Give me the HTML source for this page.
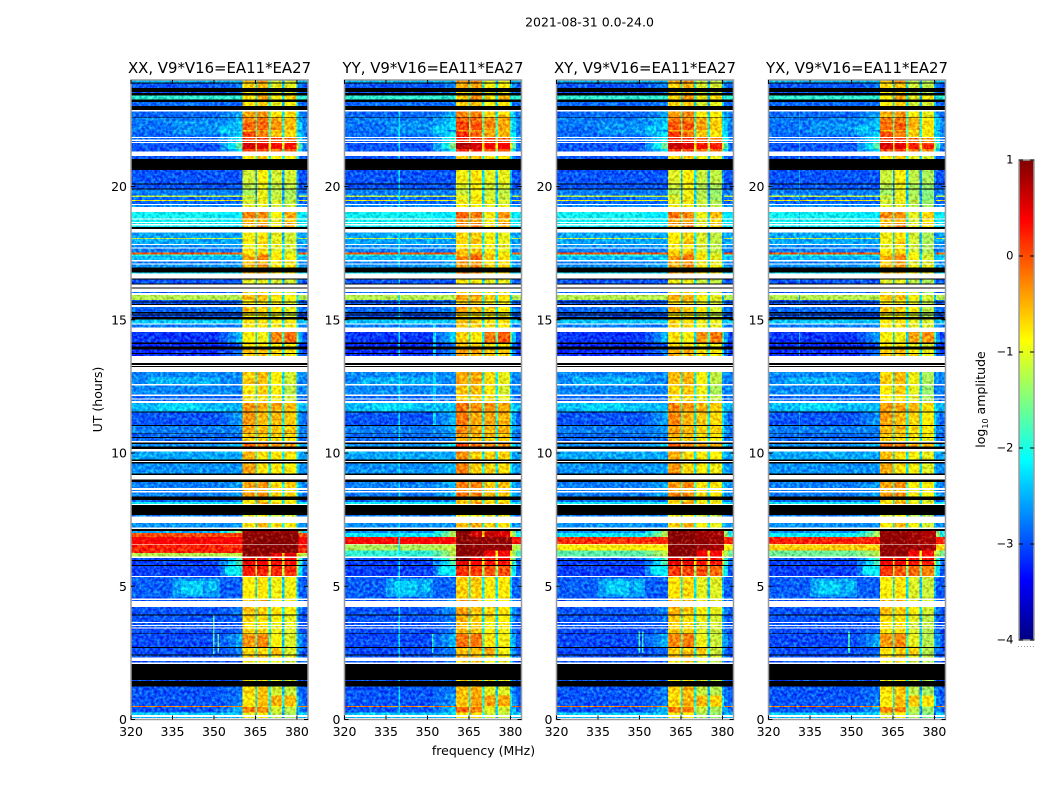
<!DOCTYPE html>
<html>
<head>
<meta charset="utf-8">
<title>Waterfall amplitude chart</title>
<style>
html,body{margin:0;padding:0;background:#fff;}
svg{display:block;}
text{font-family:"DejaVu Sans","Liberation Sans",sans-serif;fill:#000;}
</style>
</head>
<body>
<svg id="chart" xmlns="http://www.w3.org/2000/svg" width="1050" height="800" viewBox="0 0 1050 800">
<defs>
<filter id="speckle" filterUnits="objectBoundingBox" x="0" y="0" width="1" height="1" color-interpolation-filters="sRGB">
<feTurbulence type="fractalNoise" baseFrequency="0.33" numOctaves="2" seed="7" result="n"/>
<feColorMatrix in="n" type="matrix" values="1 0 0 0 0  2 0 0 0 -0.6  0.8 0 0 0 0.1  0 0 0 0 1" result="m"/>
<feComposite in="SourceGraphic" in2="m" operator="arithmetic" k1="0" k2="1" k3="0.5" k4="-0.25" result="c"/>
<feComposite in="c" in2="SourceAlpha" operator="in"/>
</filter>
<linearGradient id="jet-gradient" x1="0" y1="1" x2="0" y2="0"></linearGradient>
</defs>
<text x="589.5" y="26.5" font-size="12.5" text-anchor="middle">2021-08-31 0.0-24.0</text>
<text x="483.5" y="755" font-size="12.5" text-anchor="middle">frequency (MHz)</text>
<text transform="translate(102,399.5) rotate(-90)" font-size="12.5" text-anchor="middle">UT (hours)</text>
<g id="panels"></g>
<g id="colorbar"></g>
<text transform="translate(985,399.5) rotate(-90)" font-size="12.5" text-anchor="middle">log<tspan font-size="8" dy="3">10</tspan><tspan dy="-3"> amplitude</tspan></text>
</svg>
<script>
// ---- Data ----
const panelTitles = ["XX, V9*V16=EA11*EA27", "YY, V9*V16=EA11*EA27", "XY, V9*V16=EA11*EA27", "YX, V9*V16=EA11*EA27"];
const xTicks = [320, 335, 350, 365, 380];
const yTicks = [0, 5, 10, 15, 20];
const colorTicks = [1, 0, -1, -2, -3, -4];
const colorTickLabels = ["1", "0", "\u22121", "\u22122", "\u22123", "\u22124"];

// each time row: [hour at top of row, low-band log amplitude, sub-band A, B, C, D] or flagged 'W' / 'K'
const timeRows = [
[24.00,-2.4,-.5,-.3,-1,-1],[23.90,'K'],[23.86,-2.9,-.6,-.5,-.9,-.9],[23.70,'K'],[23.55,-2.9,-.7,-.6,-1,-1],[23.51,'K'],
[23.42,-1.9,-.7,-.4,-.8,-.6],[23.27,'K'],[23.18,-2.8,-.7,-.6,-.9,-.8],[23.03,'K'],[22.87,'W'],
[22.82,-2.8,-.4,-.3,-.7,-.7],[22.62,'K'],[22.59,-2.7,-.2,-.2,-.4,-.5],[22.42,-2.75,-.05,-.05,-.3,-.5],[22.12,-2.75,-.5,-.45,-.6,-.6],
[22.06,-2.8,.1,-.2,-.5,-.6],[21.86,'W'],[21.83,-2.8,.2,.2,.1,-.1],[21.77,'W'],[21.72,-2.8,.1,.1,0,-.1],[21.67,'W'],
[21.63,-2.9,.7,.6,.4,.4],[21.41,-2.9,.1,.1,-.1,-.1],[21.31,'W'],[21.15,-2.9,-.7,-.6,-.8,-.8],[21.03,'K'],
[20.62,-2.9,-1,-.8,-1,-1],[20.11,'K'],[20.08,-2.9,-1.1,-.9,-1.1,-1.1],[19.92,'K'],[19.89,-2.7,-1.2,-.9,-1.1,-1.2],
[19.66,-1.2,-.9,-.8,-1,-1.1],[19.61,-2.8,-1.1,-.9,-1.1,-1.2],[19.49,-.9,-.8,-.6,-.9,-1],[19.46,-2.8,-1,-.9,-1,-1.1],[19.35,'W'],[19.31,-2.6,-.9,-.9,-1,-1],[19.24,'W'],
[19.05,-2.15,-.2,-.3,-.8,-.4],[18.81,'W'],[18.77,-2.15,-.5,-.5,-.9,-.6],[18.68,'W'],[18.64,-2.15,-.35,-.35,-.8,-.4],[18.59,'W'],[18.54,-2.2,-.5,-.2,-.8,-.5],
[18.48,'K'],[18.41,'W'],[18.27,-2.5,-.8,-.7,-.9,-1],[18.07,-1.2,-.8,-.7,-.9,-1],[18.03,-2.5,-.8,-.6,-.9,-1],
[17.84,'W'],[17.80,-2.6,-.9,-.8,-.9,-1],[17.72,'W'],[17.67,-2.7,-.7,-.7,-.9,-1],[17.52,-.1,-.6,-.5,-.7,-.9],[17.46,-2,-.6,-.3,-.7,-.8],
[17.39,-2.4,-.4,-.2,-.7,-.8],[17.24,'W'],[17.19,-2.7,-.5,-.4,-.8,-.8],[17.12,'W'],[17.07,-2.6,-.5,-.3,-.7,-.7],[16.97,'K'],[16.77,-2.2,-.4,-.4,-.7,-.7],[16.74,'W'],
[16.55,'K'],[16.52,-2.9,-.9,-.9,-1,-1],[16.37,'K'],[16.33,'W'],[16.22,'K'],[16.18,'W'],[16.05,-2.8,-.9,-.8,-.9,-1],[16.00,'W'],
[15.93,-1.25,-.5,-.5,-.7,-.8],[15.74,-2.9,-.7,-.6,-.8,-.9],[15.68,'K'],[15.65,-2.9,-.7,-.7,-.8,-.9],[15.59,'K'],[15.55,'W'],
[15.48,-2.8,-.5,-.6,-.7,-.9],[15.29,'K'],[15.23,-2.9,-.8,-.8,-.9,-1],[15.20,'K'],[15.16,-2.9,-.8,-.8,-.9,-1],[15.11,'K'],
[15.02,-2.35,-.7,-.7,-.8,-.8],[14.87,'W'],[14.83,-2.7,-.7,-.7,-.8,-.8],[14.72,'W'],[14.55,-3.05,-.75,-.85,-.25,-.1],[14.15,'K'],
[14.09,-3.1,-.7,-.7,-.8,-.8],[13.99,'K'],[13.89,-3.1,-.5,-.5,-.6,-.7],[13.76,'K'],[13.72,-3.1,-.5,-.5,-.6,-.7],[13.64,'W'],[13.37,'K'],[13.30,'W'],[13.26,'K'],[13.22,'W'],
[13.05,-2.65,-.55,-.5,-.75,-1],[12.59,'W'],[12.54,-2.65,-.7,-.6,-.8,-1.1],[12.19,'W'],[12.14,-2.8,-.7,-.7,-.8,-1],[12.05,'W'],[12.01,-2.8,-.7,-.7,-.8,-1],[11.96,'W'],
[11.87,-2.4,-.3,-.4,-.4,-.5],[11.56,'K'],[11.53,-2.9,-.3,-.5,-.5,-.55],[11.06,'K'],[11.02,-2.7,-.4,-.5,-.55,-.55],[10.74,'K'],[10.71,-2.8,-.5,-.6,-.6,-.6],[10.61,'K'],
[10.57,-2.8,-.6,-.6,-.7,-.7],[10.45,'W'],[10.39,'K'],[10.34,-2.6,-.05,-.2,-.3,-.3],[10.24,'K'],[10.16,'W'],[10.05,-2.5,-.45,-.7,-.7,-.7],[9.76,'K'],[9.71,'W'],[9.66,'K'],
[9.61,-2.6,-.35,-.7,-.7,-.75],[9.24,'K'],[9.17,'W'],[9.01,'K'],[8.92,-2.7,-.35,-.3,-.65,-.6],[8.68,'W'],[8.62,-2.7,-.5,-.5,-.7,-.7],[8.58,'W'],[8.51,-2.7,-.3,-.3,-.6,-.6],[8.36,'K'],
[8.24,-2.8,-.7,-.6,-.8,-.8],[8.17,-2.1,-.7,-.4,-.7,-.7],[8.08,'W'],[8.05,'K'],[7.67,-2.7,-.9,-.8,-1,-1],[7.61,'W'],
[7.38,-2.6,-.7,-.5,-.7,-.8],[7.21,'W'],[7.14,'K'],
// burst rows are inserted per panel between 7.08 h and 5.38 h
[5.38,'W'],[5.34,-2.85,-.75,-.7,-.85,-.85],[4.55,'W'],[4.48,-2.9,-.5,-.5,-.8,-.8],[4.45,'W'],
[4.23,-2.9,-.5,-.6,-.7,-.8],[3.94,'K'],[3.91,-2.9,-.6,-.7,-.8,-.9],[3.66,'W'],[3.62,-2.9,-.7,-.7,-.9,-.9],[3.55,'W'],[3.51,-2.9,-.7,-.7,-.9,-.9],[3.46,'W'],
[3.41,-2.95,-.65,-.65,-.85,-.95],[3.23,'K'],[3.20,-2.95,-.3,-.25,-.8,-.95],[2.73,'K'],[2.69,-2.95,-.65,-.6,-.5,-.95],[2.44,'K'],[2.40,-2.9,-.55,-.5,-.8,-.9],[2.32,'W'],
[2.20,-2.9,-.8,-.7,-.9,-1],[2.13,'W'],[2.08,'K'],[1.48,-2.9,-.8,-.7,-.9,-1],[1.44,'K'],
[1.23,-2.9,-.65,-.55,-1,-1.05],[.90,-2.9,-.7,-.5,-.45,-.5],[.51,-.3,-.7,-.6,-.8,-.8],[.46,-2.9,-.2,-.25,-1,-1.1],[.26,-2.3,-.9,-.8,-1.1,-1.2],[.17,'W'],[.10,-2.4,-.9,-.8,-1.1,-1.2],[.06,'W']
];

// per-panel rows for the strong event around 6-7 h
const burstXX = [[7.08,-2.5,1,.95,.95,.95],[6.99,-.05,1.05,1.05,1.05,1.05],[6.85,.35,1.05,1.05,1.05,1.05],[6.59,'W'],[6.56,.15,1.05,1.05,1.05,1.05],[6.24,-1.25,1.05,.95,.6,.6],[6.11,'W'],[6.06,-2.9,.6,.5,.4,.4],[5.98,'K'],[5.95,-3,.6,.5,.4,.4],[5.80,'K'],[5.76,-3,.3,.25,.25,.2]];
const burstYY = [[7.08,-2.6,.9,.6,.65,.55],[6.99,-2.2,.9,.6,.65,.55],[6.85,.3,.9,.9,.9,.9],[6.59,'W'],[6.56,-1.3,.9,.9,.9,.9],[6.34,-1.9,.9,.9,.4,.4],[6.11,'W'],[6.06,-2.9,.9,.4,.3,.3],[5.98,'K'],[5.95,-3,.45,.4,.3,.3],[5.80,'K'],[5.76,-3,.05,.05,-.05,-.05]];
const burstXY = [[7.08,-2.6,1,1,1,1],[6.99,-2.1,1,1,1,1],[6.85,.1,1,1,1.05,1.05],[6.59,'W'],[6.56,-.9,1,1,1.05,1],[6.34,-1.7,1,1,.55,.55],[6.11,'W'],[6.06,-2.9,.55,.55,.4,.45],[5.98,'K'],[5.95,-3,.55,.55,.4,.45],[5.80,'K'],[5.76,-3,.1,.05,.1,0]];
const burstYX = [[7.08,-2.6,1.05,1,1.05,1.05],[6.99,-2.1,1.05,1,1.05,1.05],[6.85,.15,1.05,1,1.05,1.1],[6.59,'W'],[6.56,-.7,1.05,1,1.05,1.1],[6.34,-1.6,1.05,1,.6,.6],[6.11,'W'],[6.06,-2.9,.6,.55,.45,.5],[5.98,'K'],[5.95,-3,.6,.55,.45,.5],[5.80,'K'],[5.76,-3,.25,0,0,0]];
const burstRows = [burstXX, burstYY, burstXY, burstYX];

// sub-band offset per panel (log amplitude)
const bandOffsetA = [-.12, .05, -.05, -.15];
const bandOffsetB = [-.1, 0, -.05, -.1];
const bandOffsetC = [-.1, 0, -.15, -.2];
const bandOffsetD = [-.1, 0, -.2, -.3];

// localized broad-band features: [hour top, hour bottom, freq start, freq end, value]
const sharedPatches = [
[5.3,4.6,335,352,-2.55],[5.2,4.7,338,346,-2.3],[5.2,4.8,348,351,-2.35],[22.45,21.95,335,352,-2.6],[19.05,18.5,320,352,-2.05],
[12.85,12.6,326,352,-2.45],[11.85,11.6,330,345,-2.25],[5.75,5.45,354,358,-2.1],[22.3,22,352,356,-2.3]
];
const panelPatches = [
[[3.9,2.45,349.6,350.2,-1.7],[3.2,2.5,351.2,351.9,-1.6]],
[[22.9,.2,339.6,340,-2.2],[3.2,2.5,351.6,352.2,-1.9],[15,11,352,353,-2.3]],
[[3.3,2.5,349.6,350.2,-1.8],[3.3,2.5,351,351.5,-1.8]],
[[3.3,2.5,348.8,349.5,-1.8],[22.9,10,331,331.4,-2.5]]
];

// channel layout of the receiver sub-bands (MHz)
const bandEdges = [[360.4,365],[365.5,369.8],[370.6,374.6],[375.5,379.8]];
const gapEdges = [[365,365.5],[369.8,370.6],[374.6,375.5],[379.8,380.6]];
const rampEdges = [[352,355,.25],[355,358,.55],[358,360.4,.9],[380.6,382,.8],[382,384,.15]];

// ---- Geometry ----
const panelLeft = [131, 344.5, 556.5, 768.5];
const panelWidth = 177;
const plotTop = 80;
const plotBottom = 719.5;
const cbX = 1019, cbW = 15, cbTop = 160, cbBottom = 640;
const NS = "http://www.w3.org/2000/svg";

function xScale(f, p){ return panelLeft[p] + (f - 320) / 64 * panelWidth; }
function yScale(h){ return plotBottom - h / 24 * (plotBottom - plotTop); }
function cScale(v){ return cbBottom - (v + 4) / 5 * (cbBottom - cbTop); }
function jet(t){
  t = Math.max(0, Math.min(1, t));
  const c = (x) => Math.round(255 * Math.max(0, Math.min(1, x)));
  return "rgb(" + c(1.5 - Math.abs(4 * t - 3)) + "," + c(1.5 - Math.abs(4 * t - 2)) + "," + c(1.5 - Math.abs(4 * t - 1)) + ")";
}
function colorOf(v){ return jet((v + 4) / 5); }

function makeCell(parent, x0, x1, y0, y1, fill){
  const r = document.createElementNS(NS, "rect");
  r.setAttribute("x", x0);
  r.setAttribute("y", y0);
  r.setAttribute("width", Math.max(0, x1 - x0));
  r.setAttribute("height", Math.max(0, y1 - y0));
  r.setAttribute("fill", fill);
  r.setAttribute("shape-rendering", "crispEdges");
  
  
  parent.appendChild(r);
}
function makeLine(parent, x1, y1, x2, y2, stroke, w, name){
  const l = document.createElementNS(NS, "line");
  l.setAttribute("x1", x1);
  l.setAttribute("y1", y1);
  l.setAttribute("x2", x2);
  l.setAttribute("y2", y2);
  l.setAttribute("stroke", stroke);
  l.setAttribute("stroke-width", w);
  
  
  parent.appendChild(l);
}
function makeText(parent, x, y, str, size, anchor, name){
  const t = document.createElementNS(NS, "text");
  t.setAttribute("x", x);
  t.setAttribute("y", y);
  t.setAttribute("font-size", size);
  t.setAttribute("text-anchor", anchor);
  t.textContent = str;
  
  
  parent.appendChild(t);
}

function rowsForPanel(p){
  const before = timeRows.filter(r => r[0] > 7.1);
  const after = timeRows.filter(r => r[0] <= 5.38);
  return before.concat(burstRows[p], after);
}

function drawPanel(p){
  const g = document.createElementNS(NS, "g");
  
  
  document.getElementById("panels").appendChild(g);

  const dataLayer = document.createElementNS(NS, "g");
  dataLayer.setAttribute("filter", "url(#speckle)");
  
  
  g.appendChild(dataLayer);
  const flagLayer = document.createElementNS(NS, "g");
  
  

  const rows = rowsForPanel(p);
  const offsets = [bandOffsetA[p], bandOffsetB[p], bandOffsetC[p], bandOffsetD[p]];
  const xL = xScale(320, p), xR = xScale(384, p);

  rows.forEach((row, i) => {
    const hTop = row[0];
    const hBot = i + 1 < rows.length ? rows[i + 1][0] : 0;
    const y0 = yScale(hTop), y1 = yScale(hBot);
    if (row[1] === 'W' || row[1] === 'K') {
      makeCell(flagLayer, xL, xR, y0, y1, row[1] === 'W' ? '#ffffff' : '#000000');
      return;
    }
    const low = row[1];
    const bands = [row[2] + offsets[0], row[3] + offsets[1], row[4] + offsets[2], row[5] + offsets[3]];
    makeCell(dataLayer, xL, xScale(352, p), y0, y1, colorOf(low));
    const strongest = Math.max(bands[0], bands[1], bands[2], bands[3]);
    const rampTarget = Math.max(low, strongest - 2.1);
    rampEdges.forEach(e => {
      makeCell(dataLayer, xScale(e[0], p), xScale(e[1], p), y0, y1, colorOf(low + (rampTarget - low) * e[2]));
    });
    bandEdges.forEach((e, b) => {
      makeCell(dataLayer, xScale(e[0], p), xScale(e[1], p), y0, y1, colorOf(bands[b]));
    });
    gapEdges.forEach((e, b) => {
      const v = bands[b];
      makeCell(dataLayer, xScale(e[0], p), xScale(e[1], p), y0, y1, colorOf(v > .6 ? v : v - 1.35));
    });
  });

  sharedPatches.concat(panelPatches[p]).forEach(q => {
    makeCell(dataLayer, xScale(q[2], p), xScale(q[3], p), yScale(q[0]), yScale(q[1]), colorOf(q[4]));
  });
  g.appendChild(flagLayer);

  // frame
  const frame = document.createElementNS(NS, "rect");
  frame.setAttribute("x", xL);
  frame.setAttribute("y", plotTop);
  frame.setAttribute("width", panelWidth);
  frame.setAttribute("height", plotBottom - plotTop);
  frame.setAttribute("fill", "none");
  frame.setAttribute("stroke", "#9a9a9a");
  frame.setAttribute("stroke-width", "1.5");
  
  
  g.appendChild(frame);

  xTicks.forEach(f => {
    const x = xScale(f, p);
    makeLine(g, x, plotBottom, x, plotBottom - 4, '#000', 1, 'x-tick');
    makeLine(g, x, plotTop, x, plotTop + 4, '#000', 1, 'x-tick');
    makeText(g, x, 736, String(f), 12.5, 'middle', 'x-tick-label');
  });
  yTicks.forEach(h => {
    const y = yScale(h);
    makeLine(g, xL, y, xL + 4, y, '#000', 1, 'y-tick');
    makeLine(g, xR, y, xR - 4, y, '#000', 1, 'y-tick');
    makeText(g, xL - 4, y + 4.5, String(h), 12.5, 'end', 'y-tick-label');
  });
  makeText(g, xL + panelWidth / 2, 73, panelTitles[p], 14.9, 'middle', 'panel-title');
}

function drawColorbar(){
  const grad = document.getElementById("jet-gradient");
  for (let i = 0; i <= 32; i++) {
    const s = document.createElementNS(NS, "stop");
    s.setAttribute("offset", (i / 32 * 100) + "%");
    s.setAttribute("stop-color", jet(i / 32));
    grad.appendChild(s);
  }
  const g = document.getElementById("colorbar");
  const bar = document.createElementNS(NS, "rect");
  bar.setAttribute("x", cbX);
  bar.setAttribute("y", cbTop);
  bar.setAttribute("width", cbW);
  bar.setAttribute("height", cbBottom - cbTop);
  bar.setAttribute("fill", "url(#jet-gradient)");
  bar.setAttribute("stroke", "#9a9a9a");
  bar.setAttribute("stroke-width", "1.5");
  
  
  g.appendChild(bar);
  colorTicks.forEach((v, i) => {
    const y = cScale(v);
    makeLine(g, cbX, y, cbX + 4, y, '#000', 1, 'colorbar-tick');
    makeLine(g, cbX + cbW, y, cbX + cbW - 4, y, '#000', 1, 'colorbar-tick');
    makeText(g, 1013.5, y + 3.5, colorTickLabels[i], 11.5, 'end', 'colorbar-tick-label');
  });
  const dots = document.createElementNS(NS, "line");
  dots.setAttribute("x1", 1018);
  dots.setAttribute("y1", 646.5);
  dots.setAttribute("x2", 1035);
  dots.setAttribute("y2", 646.5);
  dots.setAttribute("stroke", "#999");
  dots.setAttribute("stroke-dasharray", "1 2");
  
  
  g.appendChild(dots);
}

[0, 1, 2, 3].forEach(drawPanel);
drawColorbar();
</script>
</body>
</html>
